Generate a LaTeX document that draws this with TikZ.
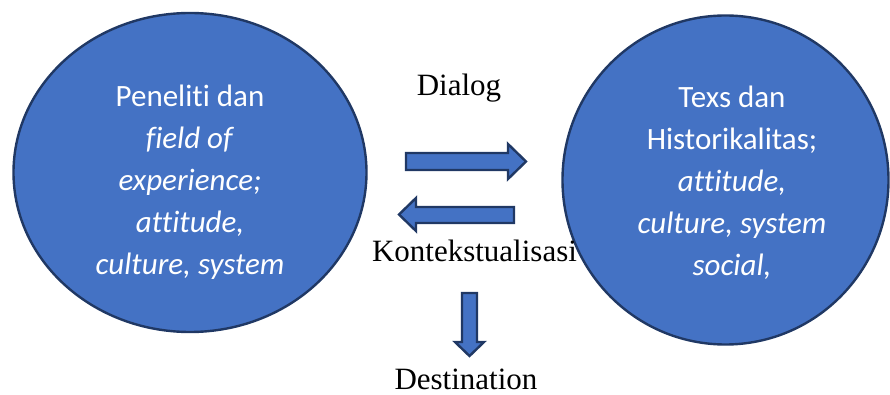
\documentclass[tikz,border=0pt]{standalone}
\usepackage{fontspec}
\setmainfont{Liberation Serif}
\newfontfamily\calibri[Ligatures={NoCommon}]{Carlito}
\usepackage{tikz}

\definecolor{biru}{HTML}{4472C4}
\definecolor{garis}{HTML}{203864}

\tikzset{
  lingkaran/.style={draw=garis, line width=1.2pt, fill=biru},
  panah/.style={draw=garis, line width=1.2pt, fill=biru, line join=miter},
  isi/.style={text=white, align=center, font=\calibri\fontsize{15.5}{21}\selectfont},
  judul/.style={anchor=base, font=\fontsize{15.5}{18}\selectfont}
}

\begin{document}
\begin{tikzpicture}[x=0.5pt, y=-0.5pt]

                \useasboundingbox (0,0) rectangle (890,395);

                % --- Lingkaran kiri: peneliti ---
                \draw[lingkaran] (190,172.5) ellipse [x radius=176.5, y radius=159.5];
                \node[isi] (peneliti) at (190,182)
                {Peneliti dan\\ \textit{field of}\\ \textit{experience;}\\ \textit{attitude,}\\ \textit{culture, system}};

                % --- Lingkaran kanan: teks ---
                \draw[lingkaran] (725.5,180) ellipse [x radius=163, y radius=164.5];
                \node[isi] (teks) at (732,183)
                {Texs dan\\ Historikalitas;\\ \textit{attitude,}\\ \textit{culture, system}\\ \textit{social,}};

                % --- Panah blok ---
                \draw[panah] (406,153) -- (508,153) -- (508,144) -- (526,161.5)
                  -- (508,179) -- (508,170) -- (406,170) -- cycle;
                \draw[panah] (514,207) -- (416,207) -- (416,198) -- (399,214.5)
                  -- (416,231) -- (416,223) -- (514,223) -- cycle;
                \draw[panah] (462,293) -- (477,293) -- (477,342) -- (484,342)
                  -- (469.5,356) -- (455,342) -- (462,342) -- cycle;

                % --- Label ---
                \node[judul] (dialog) at (459,96) {Dialog};
                \node[judul] (konteks) at (474.5,262) {Kontekstualisasi};
                \node[judul] (tujuan) at (466,390) {Destination};

\end{tikzpicture}
\end{document}
